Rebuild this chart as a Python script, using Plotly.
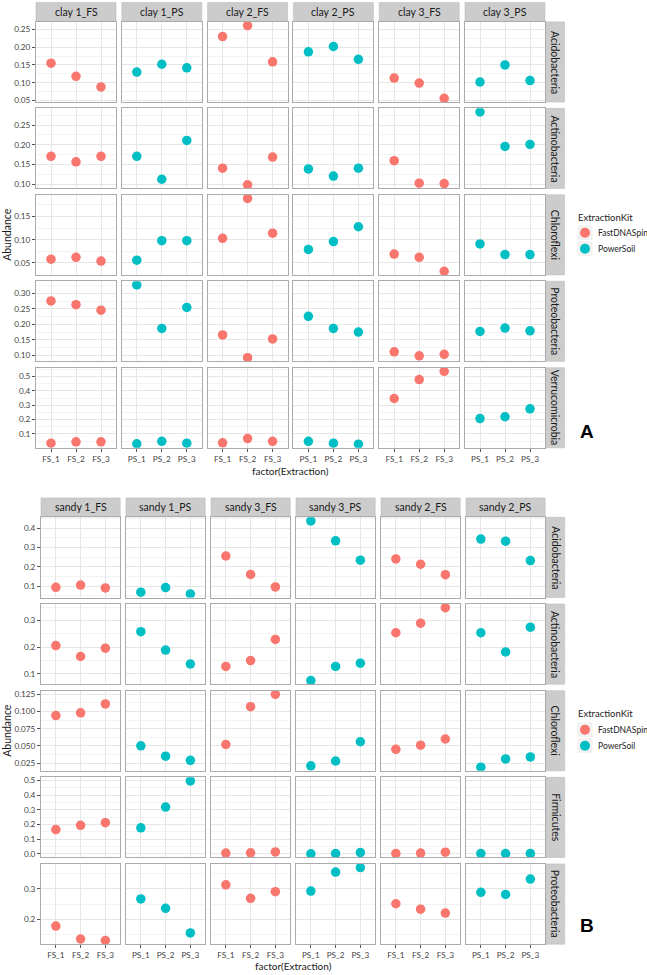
import plotly.graph_objects as go

W, H = 647, 975

# ---------------- data ----------------
FS_LEVELS = ["FS_1", "FS_2", "FS_3"]
PS_LEVELS = ["PS_1", "PS_2", "PS_3"]
KITS = ["FastDNASpin", "PowerSoil"]
KIT_COLORS = ["#F8766D", "#00BFC4"]
LEGEND_TITLE = "ExtractionKit"

COLS_A = ["clay 1_FS", "clay 1_PS", "clay 2_FS", "clay 2_PS", "clay 3_FS", "clay 3_PS"]
ROWS_A = ["Acidobacteria", "Actinobacteria", "Chloroflexi", "Proteobacteria", "Verrucomicrobia"]

COLS_B = ["sandy 1_FS", "sandy 1_PS", "sandy 3_FS", "sandy 3_PS", "sandy 2_FS", "sandy 2_PS"]
ROWS_B = ["Acidobacteria", "Actinobacteria", "Chloroflexi", "Firmicutes", "Proteobacteria"]

# values per row: 6 facet columns x 3 extractions
A_acidobacteria = [[0.155, 0.118, 0.088], [0.130, 0.152, 0.142], [0.230, 0.261, 0.159],
                   [0.187, 0.202, 0.166], [0.113, 0.099, 0.056], [0.102, 0.150, 0.106]]
A_actinobacteria = [[0.171, 0.157, 0.171], [0.171, 0.113, 0.211], [0.141, 0.099, 0.169],
                    [0.139, 0.121, 0.141], [0.160, 0.103, 0.102], [0.283, 0.196, 0.201]]
A_chloroflexi = [[0.058, 0.062, 0.054], [0.056, 0.098, 0.098], [0.103, 0.189, 0.114],
                 [0.079, 0.096, 0.128], [0.069, 0.062, 0.032], [0.091, 0.068, 0.068]]
A_proteobacteria = [[0.276, 0.264, 0.246], [0.328, 0.187, 0.255], [0.166, 0.092, 0.153],
                    [0.226, 0.187, 0.175], [0.111, 0.098, 0.103], [0.177, 0.188, 0.179]]
A_verrucomicrobia = [[0.036, 0.045, 0.045], [0.031, 0.049, 0.036], [0.038, 0.068, 0.049],
                     [0.049, 0.036, 0.029], [0.347, 0.479, 0.536], [0.207, 0.220, 0.275]]

B_acidobacteria = [[0.093, 0.105, 0.090], [0.068, 0.092, 0.059], [0.256, 0.160, 0.095],
                   [0.438, 0.335, 0.234], [0.241, 0.213, 0.159], [0.344, 0.333, 0.232]]
B_actinobacteria = [[0.206, 0.165, 0.196], [0.258, 0.189, 0.137], [0.128, 0.150, 0.229],
                    [0.075, 0.128, 0.140], [0.254, 0.290, 0.348], [0.254, 0.182, 0.275]]
B_chloroflexi = [[0.094, 0.098, 0.111], [0.050, 0.035, 0.029], [0.052, 0.107, 0.125],
                 [0.021, 0.028, 0.056], [0.045, 0.051, 0.060], [0.019, 0.031, 0.034]]
B_firmicutes = [[0.165, 0.194, 0.212], [0.177, 0.318, 0.496], [0.005, 0.007, 0.013],
                [0.000, 0.002, 0.009], [0.003, 0.005, 0.011], [0.002, 0.002, 0.003]]
B_proteobacteria = [[0.177, 0.134, 0.129], [0.267, 0.236, 0.154], [0.314, 0.269, 0.291],
                    [0.293, 0.356, 0.371], [0.251, 0.233, 0.220], [0.289, 0.282, 0.333]]

DATA_A = [A_acidobacteria, A_actinobacteria, A_chloroflexi, A_proteobacteria, A_verrucomicrobia]
DATA_B = [B_acidobacteria, B_actinobacteria, B_chloroflexi, B_firmicutes, B_proteobacteria]

# y tick settings per row: (tick0, dtick, format)
TICKS_A = [(0.05, 0.05, ".2f"), (0.10, 0.05, ".2f"), (0.05, 0.05, ".2f"),
           (0.10, 0.05, ".2f"), (0.1, 0.1, ".1f")]
TICKS_B = [(0.1, 0.1, ".1f"), (0.1, 0.1, ".1f"), (0.025, 0.025, ".3f"),
           (0.0, 0.1, ".1f"), (0.1, 0.1, ".1f")]

# ---------------- layout geometry (pixels) ----------------
SECTIONS = [
    dict(cols=COLS_A, rows=ROWS_A, data=DATA_A, ticks=TICKS_A,
         x0=36, xstep=85.8, pw=80, y0=20, ystep=86.9, ph=80.5,
         label="A", label_y=432, xtitle_y=471, legend_title_y=217, legend_key_y=224),
    dict(cols=COLS_B, rows=ROWS_B, data=DATA_B, ticks=TICKS_B,
         x0=41, xstep=85.0, pw=79.2, y0=518, ystep=87.1, ph=80.6,
         label="B", label_y=928, xtitle_y=969, legend_title_y=715, legend_key_y=723.5),
]
STRIP = 19

FONT = "Lato"
BORDER = "#ABABAB"
STRIP_FILL = "#CCCCCC"
GRID = "#E6E6E6"
MINOR = "#F3F3F3"
TICK_SIZE = 8.2


def px(x):
    return x / W


def py(y):
    return 1 - y / H


fig = go.Figure()
layout = dict(width=W, height=H, margin=dict(l=0, r=0, t=0, b=0),
              paper_bgcolor="white", plot_bgcolor="white", autosize=False,
              showlegend=False, font=dict(family=FONT, color="#222222"))
shapes = []
annotations = []

idx = 0
for s, sec in enumerate(SECTIONS):
    ncol = len(sec["cols"])
    nrow = len(sec["rows"])
    for r in range(nrow):
        row_vals = [v for col in sec["data"][r] for v in col]
        lo, hi = min(row_vals), max(row_vals)
        pad = 0.05 * (hi - lo)
        yr = [lo - pad, hi + pad]
        t0, dt, fmt = sec["ticks"][r]
        top = sec["y0"] + r * sec["ystep"]
        bot = top + sec["ph"]
        for c in range(ncol):
            idx += 1
            left = sec["x0"] + c * sec["xstep"]
            right = left + sec["pw"]
            kit = c % 2
            levels = FS_LEVELS if kit == 0 else PS_LEVELS
            xa = "xaxis" if idx == 1 else f"xaxis{idx}"
            ya = "yaxis" if idx == 1 else f"yaxis{idx}"
            xr = "x" if idx == 1 else f"x{idx}"
            yrf = "y" if idx == 1 else f"y{idx}"
            fig.add_trace(go.Scatter(
                x=levels, y=sec["data"][r][c], mode="markers",
                marker=dict(color=KIT_COLORS[kit], size=9.5, line=dict(width=0)),
                name=KITS[kit], showlegend=False,
                xaxis=xr, yaxis=yrf, hoverinfo="x+y"))
            bottom_row = r == nrow - 1
            layout[xa] = dict(
                domain=[px(left), px(right)], anchor=yrf,
                type="category", categoryorder="array", categoryarray=levels,
                range=[-0.6, 2.6], showgrid=True, gridcolor=GRID, gridwidth=1,
                zeroline=False, showline=True, linecolor=BORDER, linewidth=1, mirror=True,
                ticks="outside" if bottom_row else "", ticklen=3, tickcolor="#555555",
                showticklabels=bottom_row, tickfont=dict(size=TICK_SIZE, color="#444444", family=FONT),
                fixedrange=True)
            first_col = c == 0
            layout[ya] = dict(
                domain=[py(bot), py(top)], anchor=xr, range=yr,
                tickmode="linear", tick0=t0, dtick=dt, tickformat=fmt,
                showgrid=True, gridcolor=GRID, gridwidth=1,
                minor=dict(tick0=t0 - dt / 2, dtick=dt, showgrid=True, gridcolor=MINOR, gridwidth=1),
                zeroline=False, showline=True, linecolor=BORDER, linewidth=1, mirror=True,
                ticks="outside" if first_col else "", ticklen=3, tickcolor="#555555",
                showticklabels=first_col, tickfont=dict(size=TICK_SIZE, color="#444444", family=FONT),
                fixedrange=True)
            # top strips
            if r == 0:
                shapes.append(dict(type="rect", xref="paper", yref="paper",
                                   x0=px(left), x1=px(right), y0=py(top - 0.5), y1=py(top - STRIP - 0.5),
                                   fillcolor=STRIP_FILL, line=dict(color="#BDBDBD", width=0.6), layer="below"))
                annotations.append(dict(text=sec["cols"][c], xref="paper", yref="paper",
                                        x=px((left + right) / 2), y=py(top - STRIP / 2 - 0.5),
                                        showarrow=False, xanchor="center", yanchor="middle",
                                        font=dict(size=10.5, color="#1A1A1A", family=FONT)))
            # right strips
            if c == ncol - 1:
                shapes.append(dict(type="rect", xref="paper", yref="paper",
                                   x0=px(right + 0.5), x1=px(right + 0.5 + STRIP), y0=py(bot), y1=py(top),
                                   fillcolor=STRIP_FILL, line=dict(color="#BDBDBD", width=0.6), layer="below"))
                annotations.append(dict(text=sec["rows"][r], xref="paper", yref="paper",
                                        x=px(right + 0.5 + STRIP / 2), y=py((top + bot) / 2),
                                        showarrow=False, xanchor="center", yanchor="middle", textangle=90,
                                        font=dict(size=10.5, color="#1A1A1A", family=FONT)))
    grid_top = sec["y0"]
    grid_bot = sec["y0"] + (nrow - 1) * sec["ystep"] + sec["ph"]
    grid_left = sec["x0"]
    grid_right = sec["x0"] + (ncol - 1) * sec["xstep"] + sec["pw"]
    annotations.append(dict(text="Abundance", xref="paper", yref="paper",
                            x=px(7), y=py((grid_top + grid_bot) / 2), textangle=-90,
                            showarrow=False, xanchor="center", yanchor="middle",
                            font=dict(size=10.5, color="#1A1A1A", family=FONT)))
    annotations.append(dict(text="factor(Extraction)", xref="paper", yref="paper",
                            x=px((grid_left + grid_right) / 2), y=py(sec["xtitle_y"]),
                            showarrow=False, xanchor="center", yanchor="middle",
                            font=dict(size=10, color="#1A1A1A", family=FONT)))
    annotations.append(dict(text="<b>" + sec["label"] + "</b>", xref="paper", yref="paper",
                            x=px(578), y=py(sec["label_y"]),
                            showarrow=False, xanchor="left", yanchor="middle",
                            font=dict(size=19, color="#000000", family="Liberation Sans")))
    # legend (ggplot-style guide): title, key boxes, key dots, labels
    annotations.append(dict(text=LEGEND_TITLE, xref="paper", yref="paper",
                            x=px(576), y=py(sec["legend_title_y"]),
                            showarrow=False, xanchor="left", yanchor="middle",
                            font=dict(size=9.5, color="#1A1A1A", family=FONT)))
    KEY = 16
    for k, kit_name in enumerate(KITS):
        ky0 = sec["legend_key_y"] + k * KEY
        kcy = ky0 + KEY / 2
        shapes.append(dict(type="rect", xref="paper", yref="paper",
                           x0=px(577), x1=px(577 + KEY), y0=py(ky0 + KEY), y1=py(ky0),
                           fillcolor="#F2F2F2", line=dict(color="white", width=1), layer="above"))
        shapes.append(dict(type="circle", xref="paper", yref="paper",
                           x0=px(577 + KEY / 2 - 5), x1=px(577 + KEY / 2 + 5),
                           y0=py(kcy + 5), y1=py(kcy - 5),
                           fillcolor=KIT_COLORS[k], line=dict(width=0), layer="above"))
        annotations.append(dict(text=kit_name, xref="paper", yref="paper",
                                x=px(596), y=py(kcy), showarrow=False,
                                xanchor="left", yanchor="middle",
                                font=dict(size=8.5, color="#222222", family=FONT)))

layout["shapes"] = shapes
layout["annotations"] = annotations
fig.update_layout(**layout)
# remove the default 8px page margin so the figure sits at the window's top-left corner
fig.write_html("out.html", config={"displayModeBar": False},
               post_script="document.body.style.margin='0';")
